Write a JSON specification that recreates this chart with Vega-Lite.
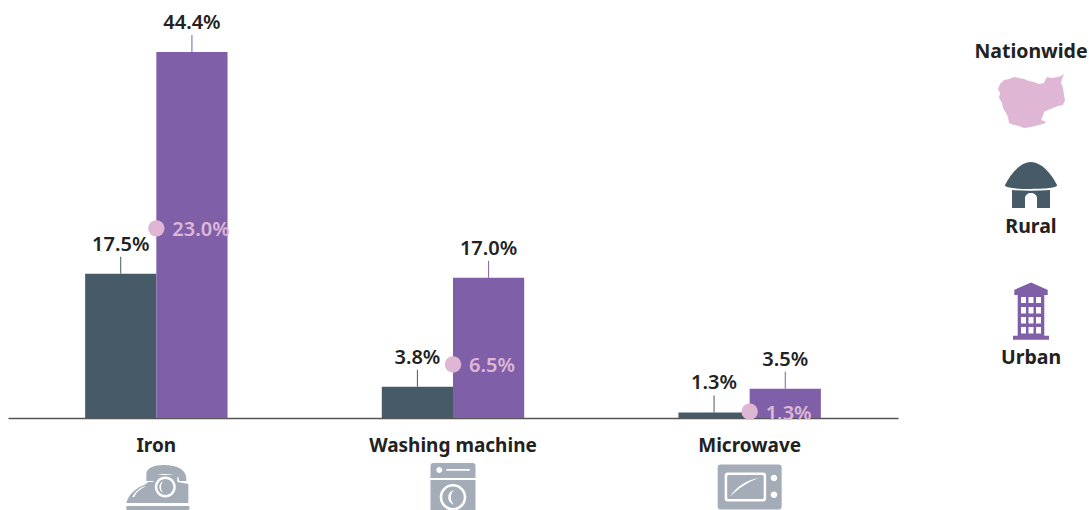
{
"$schema":"https://vega.github.io/schema/vega-lite/v6.json",
"padding":{"left":8,"top":0,"right":0,"bottom":0},
"background":"white",
"bounds":"flush",
"spacing":75,
"config":{"view":{"stroke":null},"font":"Noto Sans"},
"hconcat":[
{"width":890,"height":418,
"data":{"values":[
{"category":"Iron","group":"Rural","value":17.5,"label":"17.5%"},
{"category":"Iron","group":"Urban","value":44.4,"label":"44.4%"},
{"category":"Iron","group":"Nationwide","value":23.0,"label":"23.0%"},
{"category":"Washing machine","group":"Rural","value":3.8,"label":"3.8%"},
{"category":"Washing machine","group":"Urban","value":17.0,"label":"17.0%"},
{"category":"Washing machine","group":"Nationwide","value":6.5,"label":"6.5%"},
{"category":"Microwave","group":"Rural","value":0.67,"label":"1.3%"},
{"category":"Microwave","group":"Urban","value":3.55,"label":"3.5%"},
{"category":"Microwave","group":"Nationwide","value":0.77,"label":"1.3%"}
]},
"encoding":{
"x":{"field":"category","type":"nominal","sort":null,
"scale":{"domain":["Iron","Washing machine","Microwave"],"paddingInner":0.52,"paddingOuter":0.26},
"axis":{"title":null,"labelAngle":0,"ticks":false,"labelFontSize":19,"labelFontWeight":"bold","labelColor":"#222222","labelPadding":18,"domainColor":"#555555","domainWidth":1.5,"grid":false}},
"y":{"field":"value","type":"quantitative","scale":{"domain":[0,50.7],"nice":false,"zero":true},"axis":null}
},
"layer":[
{"transform":[{"filter":"datum.group!='Nationwide'"}],
"mark":{"type":"bar"},
"encoding":{
"xOffset":{"field":"group","type":"nominal","scale":{"domain":["Rural","Urban"],"paddingInner":0,"paddingOuter":0}},
"color":{"field":"group","type":"nominal","scale":{"domain":["Nationwide","Rural","Urban"],"range":["#dfb7d5","#465a68","#7f60a8"]},"legend":null}}},
{"transform":[{"filter":"datum.group!='Nationwide'"}],
"mark":{"type":"rule","y2Offset":-17,"strokeWidth":1},
"encoding":{
"xOffset":{"field":"group","type":"nominal","scale":{"domain":["Rural","Urban"],"paddingInner":0,"paddingOuter":0}},
"y2":{"field":"value"},
"color":{"field":"group","type":"nominal","legend":null}}},
{"transform":[{"filter":"datum.group!='Nationwide'"}],
"mark":{"type":"text","yOffset":-29,"fontSize":20,"fontWeight":600,"color":"#222222","baseline":"middle"},
"encoding":{
"xOffset":{"field":"group","type":"nominal","scale":{"domain":["Rural","Urban"],"paddingInner":0,"paddingOuter":0}},
"text":{"field":"label"}}},
{"transform":[{"filter":"datum.group=='Nationwide'"}],
"mark":{"type":"point","filled":true,"opacity":1,"size":270},
"encoding":{"color":{"field":"group","type":"nominal","legend":null}}},
{"transform":[{"filter":"datum.group=='Nationwide'"}],
"mark":{"type":"text","align":"left","dx":16,"yOffset":2,"fontSize":20,"fontWeight":600,"baseline":"middle"},
"encoding":{"text":{"field":"label"},"color":{"field":"group","type":"nominal","legend":null}}},
{"transform":[{"filter":"datum.group=='Nationwide'"}],
"mark":{"type":"point","filled":true,"opacity":1,"size":4,"yOffset":69,"color":"#a3acb7"},
"encoding":{
"y":{"datum":0},
"shape":{"field":"category","type":"nominal","legend":null,"scale":{"domain":["Iron","Washing machine","Microwave"],"range":[
"M-10,-6 L-10,-13 C-10,-19 -2,-22 7,-22 C18,-22 29,-19 30,-9 L30,-6 L23,-6 L22,-10 C16,-14 0,-14 -2,-10 L-2,-6 Z M-30,16 C-28,8 -21,1 -12,-2 L-8,-5 L-3,-5 L-3,-12 L21,-12 L21,-5 L32,-3 L32,16 Z M-1.5,0 A10.5,10.5 0 1 0 19.5,0 A10.5,10.5 0 1 0 -1.5,0 Z M1,0 A8,8 0 1 1 17,0 A8,8 0 1 1 1,0 Z M7,-6 A6.5,6.5 0 0 0 7,6 A9,9 0 0 1 7,-6 Z M-22,10 C-20,5 -16,2 -10,-1 C-16,0 -21,4 -24,10 Z M-30,19 L33,19 L33,23 L-30,23 Z",
"M-22.5,-9 L-22.5,-21 Q-22.5,-24 -19.5,-24 L19.5,-24 Q22.5,-24 22.5,-21 L22.5,-9 Z M-16.7,-17 A3,3 0 1 0 -10.7,-17 A3,3 0 1 0 -16.7,-17 Z M-6.7,-18 L-6.7,-16.3 L16.7,-16.3 L16.7,-18 Z M-22.5,-7 L22.5,-7 L22.5,24 L-22.5,24 Z M-13.3,10.3 A13.3,13.3 0 1 0 13.3,10.3 A13.3,13.3 0 1 0 -13.3,10.3 Z M-10.7,10.3 A10.7,10.7 0 1 1 10.7,10.3 A10.7,10.7 0 1 1 -10.7,10.3 Z M1,3 A7.5,7.5 0 0 0 1,17.6 A10,10 0 0 1 1,3 Z",
"M-29,-22.5 L29,-22.5 Q32,-22.5 32,-19.5 L32,19.5 Q32,22.5 29,22.5 L-29,22.5 Q-32,22.5 -32,19.5 L-32,-19.5 Q-32,-22.5 -29,-22.5 Z M-22,-14.5 Q-25,-14.5 -25,-11.5 L-25,11.5 Q-25,14.5 -22,14.5 L13.5,14.5 Q16.5,14.5 16.5,11.5 L16.5,-11.5 Q16.5,-14.5 13.5,-14.5 Z M-21,-12 L12.5,-12 Q14,-12 14,-10.5 L14,10.5 Q14,12 12.5,12 L-21,12 Q-22.5,12 -22.5,10.5 L-22.5,-10.5 Q-22.5,-12 -21,-12 Z M-20,10 C-12,2 -2,-5 9,-9 C-3,-7 -13,-1 -20,10 Z M21,-9 A3.3,3.3 0 1 0 27.6,-9 A3.3,3.3 0 1 0 21,-9 Z M21,7.7 A3.3,3.3 0 1 0 27.6,7.7 A3.3,3.3 0 1 0 21,7.7 Z"
]}}}}
]},
{"width":116,"height":418,
"data":{"values":[{"group":"Nationwide"},{"group":"Rural"},{"group":"Urban"}]},
"encoding":{
"y":{"field":"group","type":"nominal","axis":null,"scale":{"type":"point","padding":0,"domain":["Nationwide","Rural","Urban"],"range":[76,336]}}
},
"layer":[
{"transform":[{"filter":"datum.group=='Nationwide'"}],"mark":{"type":"text","yOffset":-24,"fontSize":19.5,"fontWeight":"bold","color":"#222222","baseline":"middle"},"encoding":{"text":{"field":"group"}}},
{"transform":[{"filter":"datum.group=='Rural'"}],"mark":{"type":"text","yOffset":21,"fontSize":19.5,"fontWeight":"bold","color":"#222222","baseline":"middle"},"encoding":{"text":{"field":"group"}}},
{"transform":[{"filter":"datum.group=='Urban'"}],"mark":{"type":"text","yOffset":22,"fontSize":19.5,"fontWeight":"bold","color":"#222222","baseline":"middle"},"encoding":{"text":{"field":"group"}}},
{"transform":[{"filter":"datum.group=='Nationwide'"}],"mark":{"type":"point","filled":true,"opacity":1,"size":4,"yOffset":25,"color":"#dfb7d5","shape":"M-33,-12 L-31,-17 L-27,-21 L-22,-22 L-17,-24 L-12,-23 L-7,-22 L-2,-20 L3,-19 L8,-17 L13,-18 L14,-21 L16,-24 L21,-23 L27,-24 L30,-25 L33,-27 L31,-22 L30,-18 L32,-13 L33,-6 L34,-1 L32,4 L27,5 L22,7 L17,9 L13,11 L12,15 L10,19 L13,20 L15,22 L8,24 L0,26 L-7,27 L-12,25 L-17,24 L-22,22 L-23,16 L-25,12 L-28,7 L-29,2 L-32,-3 L-31,-8 Z"}},
{"transform":[{"filter":"datum.group=='Rural'"}],"mark":{"type":"point","filled":true,"opacity":1,"size":4,"yOffset":-21,"color":"#465a68","shape":"M-26,0 C-20,-12 -10,-23 0,-23 C10,-23 20,-12 26,0 C27,2 20,4 0,4 C-20,4 -27,2 -26,0 Z M-19,5 Q0,6.5 19,5 L19,23 L6,23 L6,13 C6,10 3,8 0,8 C-3,8 -6,10 -6,13 L-6,23 L-19,23 Z"}},
{"transform":[{"filter":"datum.group=='Urban'"}],"mark":{"type":"point","filled":true,"opacity":1,"size":4,"yOffset":-25,"color":"#7f60a8","shape":"M-17,-21 L0,-28.5 L17,-21 Z M-16.7,-21 L16.7,-21 L16.7,-16 L-16.7,-16 Z M-13.3,-16 L13.3,-16 L13.3,25 L-13.3,25 Z M-18,24.7 L18,24.7 L18,28.7 L-18,28.7 Z M-10,-14 L-10,-8 L-5,-8 L-5,-14 Z M-2.5,-14 L-2.5,-8 L2.5,-8 L2.5,-14 Z M5,-14 L5,-8 L10,-8 L10,-14 Z M-10,-4 L-10,2.5 L-5,2.5 L-5,-4 Z M-2.5,-4 L-2.5,2.5 L2.5,2.5 L2.5,-4 Z M5,-4 L5,2.5 L10,2.5 L10,-4 Z M-10,6 L-10,12.5 L-5,12.5 L-5,6 Z M-2.5,6 L-2.5,12.5 L2.5,12.5 L2.5,6 Z M5,6 L5,12.5 L10,12.5 L10,6 Z M-10,16 L-10,22.5 L-5,22.5 L-5,16 Z M-2.5,16 L-2.5,22.5 L2.5,22.5 L2.5,16 Z M5,16 L5,22.5 L10,22.5 L10,16 Z"}}
]}
]
}
